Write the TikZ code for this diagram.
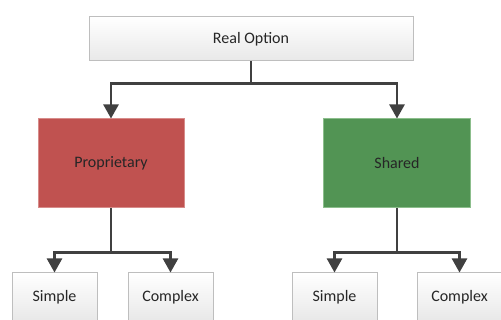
\documentclass[tikz,border=0pt]{standalone}
\usepackage{fontspec}
\setmainfont{Carlito}
\usepackage{tikz}
\usetikzlibrary{arrows.meta}

\definecolor{edgegray}{RGB}{190,190,190}
\definecolor{linegray}{RGB}{64,64,64}
\definecolor{propred}{RGB}{192,82,80}
\definecolor{propedge}{RGB}{215,140,138}
\definecolor{sharedgreen}{RGB}{82,148,84}
\definecolor{sharededge}{RGB}{140,190,140}

\begin{document}
\begin{tikzpicture}[x=1pt,y=-1pt,
    box/.style={rectangle,draw=edgegray,line width=1pt,top color=white,bottom color=black!9,
                text=black!85,font=\fontsize{16}{18}\selectfont,inner sep=0pt},
    conn/.style={line width=2.4pt,draw=linegray,-{Triangle[width=15pt,length=14pt]}}]
\useasboundingbox (0,0) rectangle (501,320);
\clip (0,0) rectangle (501,320);
\node (root)     at (251,39)    [box,minimum width=324pt,minimum height=44pt] {Real Option};
\node (prop)     at (111,163.5) [box,draw=propedge,top color=propred,bottom color=propred,
                                 minimum width=146pt,minimum height=89pt] {Proprietary};
\node (shared)   at (397,163.5) [box,draw=sharededge,top color=sharedgreen,bottom color=sharedgreen,
                                 minimum width=147pt,minimum height=89pt] {Shared};
\node (simple1)  at (54.5,297)  [box,minimum width=85pt,minimum height=48pt] {Simple};
\node (complex1) at (170.5,297) [box,minimum width=85pt,minimum height=48pt] {Complex};
\node (simple2)  at (334.5,297) [box,minimum width=85pt,minimum height=48pt] {Simple};
\node (complex2) at (459.5,297) [box,minimum width=85pt,minimum height=48pt] {Complex};
\draw [conn] (root.south) -- ++(0,22) -| (prop.north);
\draw [conn] (root.south) -- ++(0,22) -| (shared.north);
\draw [conn] (prop.south) -- ++(0,44) -| (simple1.north);
\draw [conn] (prop.south) -- ++(0,44) -| (complex1.north);
\draw [conn] (shared.south) -- ++(0,44) -| (simple2.north);
\draw [conn] (shared.south) -- ++(0,44) -| (complex2.north);
\end{tikzpicture}
\end{document}
